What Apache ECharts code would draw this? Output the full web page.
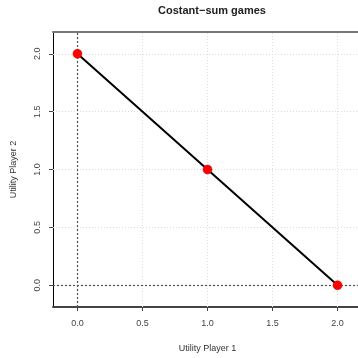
<!DOCTYPE html>
<html><head><meta charset="utf-8">
<script src="https://cdn.jsdelivr.net/npm/echarts@6/dist/echarts.min.js"></script>
<style>html,body{margin:0;padding:0;background:#fff}#c{width:358px;height:358px}</style>
</head><body><div id="c"></div>
<script>
var utilityP1 = [0, 1, 2];
var utilityP2 = [2, 1, 0];
var xTicks = [0, 0.5, 1, 1.5, 2];
var yTicks = [0, 0.5, 1, 1.5, 2];
var xTickLabels = ['0.0', '0.5', '1.0', '1.5', '2.0'];
var yTickLabels = ['0.0', '0.5', '1.0', '1.5', '2.0'];
var refX = 0, refY = 0;

var chart = echarts.init(document.getElementById('c'), null, {renderer: 'canvas'});
var font = 'Liberation Sans, Arial, Helvetica, sans-serif';
var pts = utilityP1.map(function (x, i) { return [x, utilityP2[i]]; });
var gridLines = xTicks.map(function (v) { return {xAxis: v}; })
  .concat(yTicks.map(function (v) { return {yAxis: v}; }));

chart.setOption({
  animation: false,
  title: {
    text: 'Costant\u2212sum games', left: 207, top: 0, textAlign: 'center',
    textStyle: {fontFamily: font, fontSize: 11, fontWeight: 'bold', color: '#222'}
  },
  grid: {left: 53, top: 32, width: 309, height: 275, containLabel: false, outerBoundsMode: 'none'},
  xAxis: [{
    type: 'value', min: -0.188, max: 2.188,
    name: 'Utility Player 1', nameLocation: 'middle', nameGap: 37,
    nameTextStyle: {fontFamily: font, fontSize: 9, color: '#333'},
    axisLine: {show: true, onZero: false, lineStyle: {color: '#444', width: 2}},
    axisTick: {show: true, customValues: xTicks, length: 4, lineStyle: {color: '#444'}},
    axisLabel: {customValues: xTicks, fontFamily: font, fontSize: 9, color: '#444', margin: 12,
      formatter: function (v) { return xTickLabels[xTicks.indexOf(v)]; }},
    splitLine: {show: false}
  }, {
    type: 'value', position: 'top', min: -0.188, max: 2.188,
    axisLine: {show: true, onZero: false, lineStyle: {color: '#777', width: 2}},
    axisTick: {show: false}, axisLabel: {show: false}, splitLine: {show: false}
  }],
  yAxis: {
    type: 'value', min: -0.188, max: 2.188,
    name: 'Utility Player 2', nameLocation: 'middle', nameGap: 35,
    nameTextStyle: {fontFamily: font, fontSize: 9, color: '#333'},
    axisLine: {show: true, onZero: false, lineStyle: {color: '#000', width: 1}},
    axisTick: {show: true, customValues: yTicks, length: 4, lineStyle: {color: '#444'}},
    axisLabel: {customValues: yTicks, rotate: 90, fontFamily: font, fontSize: 9, color: '#444', margin: 15,
      verticalAlign: 'middle', align: 'center',
      formatter: function (v) { return yTickLabels[yTicks.indexOf(v)]; }},
    splitLine: {show: false}
  },
  series: [{
    type: 'line', data: [], silent: true,
    markLine: {
      silent: true, symbol: 'none', label: {show: false},
      lineStyle: {color: '#dddddd', type: [1, 2], width: 1},
      data: gridLines
    }
  }, {
    type: 'line', data: [], silent: true,
    markLine: {
      silent: true, symbol: 'none', label: {show: false},
      lineStyle: {color: '#555', type: [2, 2], width: 1.2},
      data: [{xAxis: refX}, {yAxis: refY}]
    }
  }, {
    type: 'line', data: pts, symbol: 'circle', symbolSize: 9,
    lineStyle: {color: '#000', width: 2},
    itemStyle: {color: '#ff0000', borderColor: '#cc0000', borderWidth: 0.5},
    z: 5
  }]
});
</script></body></html>
